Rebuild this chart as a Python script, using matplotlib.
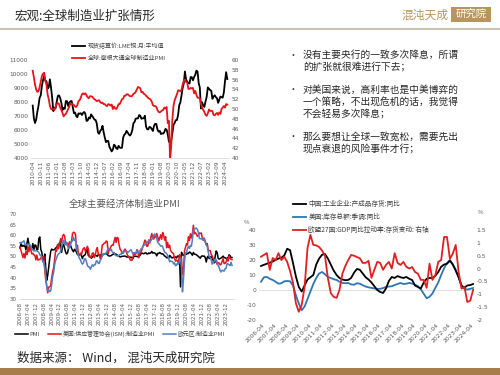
import matplotlib
matplotlib.use('Agg')
import matplotlib.pyplot as plt
from matplotlib.patches import Rectangle
from matplotlib.lines import Line2D
import numpy as np
import pandas as pd

plt.rcParams['font.family'] = ['Noto Sans CJK SC', 'DejaVu Sans']
plt.rcParams['axes.unicode_minus'] = False

# ---------------- data: chart 1 (monthly, 2010-04 .. 2024-06) ----------------
copper_start = '2010-04'
copper = [7745, 6838, 6499, 6735, 7284, 7709, 8292, 8470, 9147,
          9556, 9868, 9530, 9483, 8958, 9045, 9620, 9040, 8300, 7350, 7580, 7560,
          8040, 8440, 8470, 8290, 7960, 7420, 7580, 7510, 8070, 8060, 7710, 7960,
          8050, 8070, 7650, 7200, 7250, 7000, 6910, 7190, 7160, 7200, 7070, 7220,
          7290, 7150, 6650, 6670, 6890, 6820, 7110, 7000, 6870, 6740, 6710, 6450,
          5830, 5730, 5940, 6040, 6300, 5830, 5460, 5130, 5220, 5220, 4800, 4640,
          4470, 4600, 4950, 4870, 4690, 4640, 4870, 4750, 4720, 4730, 5450, 5660,
          5740, 5940, 5820, 5680, 5600, 5720, 5990, 6480, 6580, 6810, 6830, 6830,
          7070, 7010, 6800, 6840, 6830, 7020, 6250, 6050, 6050, 6220, 6190, 6070,
          5930, 6300, 6440, 6430, 6030, 5880, 5940, 5710, 5760, 5740, 5860, 6080,
          6030, 5690, 5180, 5060, 5240, 5760, 6370, 6500, 6700, 6710, 7070, 7770,
          7970, 8460, 9000, 9340, 10180, 9610, 9440, 9360, 9320, 9780, 9770, 9550,
          9780, 9940, 10240, 10180, 9360, 9030, 7530, 7980, 7750, 7650, 8050, 8370,
          9040, 8940, 8850, 8810, 8230, 8390, 8480, 8350, 8270, 7940, 8170, 8390,
          8340, 8310, 8680, 9480, 10130, 9640]
pmi_global = [57.8, 56.5, 55.0, 54.0, 53.5, 53.6, 54.4, 55.6, 56.7,
              57.2, 57.4, 55.8, 55.0, 53.0, 52.0, 50.7, 50.0, 49.9, 50.0, 49.8, 50.5,
              51.0, 51.2, 51.0, 50.3, 49.8, 49.2, 48.5, 48.8, 49.0, 49.5, 50.0, 50.5,
              51.2, 51.0, 51.0, 50.8, 50.5, 50.4, 50.8, 51.6, 51.8, 52.3, 53.0, 53.2,
              53.0, 53.2, 52.8, 52.4, 52.2, 52.6, 52.6, 52.5, 52.2, 52.0, 51.8, 51.6,
              51.7, 51.8, 51.4, 51.2, 51.3, 51.0, 51.0, 50.7, 50.6, 51.0, 50.9, 50.7,
              50.9, 50.0, 50.5, 50.1, 50.0, 50.4, 51.0, 51.0, 51.5, 52.0, 52.1, 52.7,
              52.7, 53.0, 53.0, 52.8, 52.6, 52.6, 52.7, 53.1, 53.2, 53.5, 54.0, 54.5,
              54.4, 54.2, 53.4, 53.5, 53.1, 53.0, 52.7, 52.5, 52.2, 52.1, 51.9, 51.5,
              50.8, 50.6, 50.6, 50.4, 49.8, 49.4, 49.3, 49.5, 49.7, 49.8, 50.3, 50.1,
              50.4, 47.1, 47.6, 39.6, 42.4, 47.8, 50.6, 51.8, 52.4, 53.0, 53.8, 53.8,
              53.6, 53.9, 55.0, 55.8, 56.0, 55.5, 55.4, 54.1, 54.1, 54.3, 54.2, 54.3,
              53.2, 53.7, 52.9, 52.3, 52.3, 52.2, 51.1, 50.3, 49.8, 49.4, 48.8, 48.6,
              49.1, 49.9, 49.6, 49.6, 49.6, 48.8, 48.7, 49.0, 49.2, 48.8, 49.3, 49.0,
              50.0, 50.3, 50.6, 50.3, 51.0, 50.9]
copper_label = '现货结算价:LME铜:月:平均值'
pmi_global_label = '全球:摩根大通全球制造业PMI'

# ---------------- data: chart 2 (monthly, 2006-08 .. 2024-06) ----------------
pmi_start = '2006-08'
pmi_china = [54.0, 56.0, 54.7, 55.3, 54.8,
             55.1, 53.1, 56.1, 58.6, 55.8, 54.8, 53.3, 54.0, 56.1, 53.2, 55.4, 55.3,
             53.0, 53.4, 58.4, 59.2, 53.3, 52.0, 48.4, 48.4, 51.2, 44.6, 38.8, 41.2,
             45.3, 49.0, 52.4, 53.5, 53.1, 53.2, 53.3, 54.0, 54.3, 55.2, 55.2, 56.6,
             55.8, 52.0, 55.1, 55.7, 53.9, 52.1, 51.2, 51.7, 53.8, 54.7, 55.2, 53.9,
             52.9, 52.2, 53.4, 52.9, 52.0, 50.9, 50.7, 50.9, 51.2, 50.4, 49.0, 50.3,
             50.5, 51.0, 53.1, 53.3, 50.4, 50.2, 50.1, 49.2, 49.8, 50.2, 50.6, 50.6,
             50.4, 50.1, 50.9, 50.6, 50.8, 50.1, 50.3, 51.0, 51.1, 51.4, 51.4, 51.0,
             50.5, 50.2, 50.3, 50.4, 50.8, 51.0, 51.7, 51.1, 51.1, 50.8, 50.3, 50.1,
             49.8, 49.9, 50.1, 50.1, 50.2, 50.2, 50.0, 49.7, 49.8, 49.8, 49.6, 49.7,
             49.4, 49.0, 50.2, 50.1, 50.1, 50.0, 49.9, 50.4, 50.4, 51.2, 51.7, 51.4,
             51.3, 51.6, 51.8, 51.2, 51.2, 51.7, 51.4, 51.7, 52.4, 51.6, 51.8, 51.6,
             51.3, 50.3, 51.5, 51.4, 51.9, 51.5, 51.2, 51.3, 50.8, 50.2, 50.0, 49.4,
             49.5, 49.2, 50.5, 50.1, 49.4, 49.4, 49.7, 49.5, 49.8, 49.3, 50.2, 50.2,
             50.0, 35.7, 52.0, 50.8, 50.6, 50.9, 51.1, 51.0, 51.5, 51.4, 52.1, 51.9,
             51.3, 50.6, 51.9, 51.1, 51.0, 50.9, 50.4, 50.1, 49.6, 49.2, 50.1, 50.3,
             50.1, 50.2, 49.5, 47.4, 49.6, 50.2, 49.0, 49.4, 50.1, 49.2, 48.0, 47.0,
             50.1, 52.6, 51.9, 49.2, 48.8, 49.0, 49.3, 49.7, 50.2, 49.5, 49.4, 49.0,
             49.2, 49.1, 50.8, 50.4, 49.5, 49.5]
pmi_us = [54.5, 52.9, 51.2, 49.5, 51.4,
          49.3, 52.3, 50.9, 54.7, 52.2, 55.0, 52.9, 51.2, 51.5, 50.7, 50.6, 48.4,
          50.7, 48.3, 48.6, 48.6, 49.3, 49.5, 50.0, 49.9, 43.5, 38.9, 36.2, 32.9,
          35.6, 35.8, 36.3, 40.1, 42.8, 44.8, 48.9, 52.8, 52.6, 55.7, 53.6, 55.9,
          58.4, 56.5, 59.6, 60.4, 59.7, 56.2, 55.5, 56.3, 54.4, 56.9, 56.6, 57.0,
          60.8, 61.4, 61.2, 60.4, 53.5, 55.3, 50.9, 50.6, 51.6, 50.8, 52.7, 53.9,
          54.1, 52.4, 53.4, 54.8, 53.5, 49.7, 49.8, 49.6, 51.5, 51.7, 49.5, 50.7,
          53.1, 54.2, 51.3, 50.7, 49.0, 50.9, 55.4, 55.7, 56.2, 56.4, 57.3, 57.0,
          51.3, 53.2, 53.7, 54.9, 55.4, 55.3, 57.1, 59.0, 56.6, 59.0, 58.7, 55.5,
          53.5, 52.9, 51.5, 51.5, 52.8, 53.5, 52.7, 51.1, 50.2, 50.1, 48.6, 48.2,
          48.2, 49.5, 51.8, 50.8, 51.3, 53.2, 52.6, 49.4, 51.5, 51.9, 53.2, 54.5,
          56.0, 57.7, 57.2, 54.8, 54.9, 57.8, 56.3, 58.8, 60.8, 58.7, 58.2, 59.7,
          59.1, 60.8, 59.3, 57.3, 58.7, 60.2, 58.1, 61.3, 59.8, 57.7, 59.3, 54.1,
          56.6, 54.2, 55.3, 52.8, 52.1, 51.7, 51.2, 49.1, 47.8, 48.3, 48.1, 47.2,
          50.9, 50.1, 49.1, 41.5, 43.1, 52.6, 54.2, 56.0, 55.4, 59.3, 57.5, 60.7,
          58.7, 60.8, 64.7, 60.7, 61.2, 60.6, 59.5, 59.9, 61.1, 60.8, 61.1, 58.8,
          57.6, 58.6, 57.1, 55.4, 56.1, 53.0, 52.8, 52.8, 50.9, 50.2, 49.0, 48.4,
          47.4, 47.7, 46.3, 47.1, 46.9, 46.0, 46.4, 47.6, 49.0, 46.7, 46.7, 47.4,
          49.1, 47.8, 50.3, 49.2, 48.7, 48.5]
pmi_ez = [56.5, 56.6, 56.6, 57.0, 57.4,
          55.5, 55.6, 55.4, 55.9, 55.6, 55.6, 54.9, 53.2, 53.2, 52.6, 52.8, 52.6,
          52.8, 52.3, 52.0, 50.7, 50.6, 49.2, 47.4, 47.6, 45.0, 41.1, 35.6, 33.9,
          34.4, 33.5, 33.9, 36.8, 40.7, 42.6, 46.3, 48.2, 49.3, 50.7, 51.2, 51.6,
          52.4, 54.2, 56.6, 57.6, 55.8, 55.6, 56.7, 55.1, 53.7, 54.6, 55.3, 57.1,
          57.3, 59.0, 57.5, 58.0, 54.6, 52.0, 50.4, 49.0, 48.5, 47.1, 46.4, 46.9,
          48.8, 49.0, 47.7, 45.9, 45.1, 45.1, 44.0, 45.1, 46.1, 45.4, 46.2, 46.1,
          47.9, 47.9, 46.8, 46.7, 48.3, 48.8, 50.3, 51.4, 51.1, 51.3, 51.6, 52.7,
          54.0, 53.2, 53.0, 53.4, 52.2, 51.8, 51.8, 50.7, 50.3, 50.6, 50.1, 50.6,
          51.0, 51.0, 52.2, 52.0, 52.2, 52.5, 52.4, 52.3, 52.0, 52.3, 52.8, 53.2,
          52.3, 51.2, 51.6, 51.7, 51.5, 52.8, 52.0, 51.7, 52.6, 53.5, 53.7, 54.9,
          55.2, 55.4, 56.2, 56.7, 57.0, 57.4, 56.6, 57.4, 58.1, 58.5, 60.1, 60.6,
          59.6, 58.6, 56.6, 56.2, 55.5, 54.9, 55.1, 54.6, 53.2, 52.0, 51.8, 51.4,
          50.5, 49.3, 47.5, 47.9, 47.7, 47.6, 46.5, 47.0, 45.7, 45.9, 46.9, 46.3,
          47.9, 49.2, 44.5, 33.4, 39.4, 47.4, 51.8, 51.7, 53.7, 54.8, 53.8, 55.2,
          54.8, 57.9, 62.5, 62.9, 63.1, 63.4, 62.8, 61.4, 58.6, 58.3, 58.4, 58.0,
          58.7, 58.2, 56.5, 55.5, 54.6, 52.1, 49.8, 49.6, 48.4, 46.4, 47.1, 47.8,
          48.8, 48.5, 47.3, 45.8, 44.8, 43.4, 42.7, 43.5, 43.4, 43.1, 44.2, 44.4,
          46.6, 46.5, 46.1, 45.7, 47.3, 45.8]
pmi_labels = ['PMI', '美国:供应管理协会(ISM):制造业PMI', '欧元区:制造业PMI']

# ---------------- data: chart 3 (quarterly, 2006Q1 .. 2024Q2) ----------------
inv_start_year = 2006
cn_inventory = [16, 16.8, 17.5, 18.2, 19, 20, 21, 21.5, 23, 27.5, 26.5, 18,
                9, 2, -1, 3, 7, 8.5, 10, 17, 21, 23.5, 24, 21,
                17, 13, 10, 8, 7, 6.5, 6.7, 8, 11.5, 14, 13.5, 11,
                8.5, 7, 5, 2.5, 0, -1.3, -2, 1, 6, 8.7, 8, 9.3,
                8.5, 8, 8.7, 7.5, 6.7, 3, 2, 1, 5, 7.5, 8, 8,
                9.5, 12, 15.5, 17, 17.5, 19.5, 17, 13, 8.5, 3, 1.5, 3,
                3.3, 4]
us_inventory = [5.5, 8.5, 8.7, 7.5, 6.7, 5.5, 4.2, 4.5, 5.8, 6, 5.8, 3,
                -3.5, -9, -13.5, -11, -6, -1, 4, 8, 11, 12, 10.5, 8.7,
                8, 7.2, 6.7, 5.5, 4.7, 4.5, 4.7, 3.7, 3.5, 4.5, 4.2, 3.2,
                2.3, 1.8, 1.4, 1, 0.7, 0.8, 1.3, 2, 2.3, 2.5, 3.3, 4,
                4.7, 4, 4.2, 4.7, 4.3, 3.5, 2.5, 0.5, -2.5, -5.5, -4.5, -2.3,
                1.5, 5, 10, 14.5, 18, 20, 17, 13.5, 8.5, 2.5, 0.8, 0.3,
                0.8, 1.3]
eu_inventory = [0.46, 0.53, 0.6, -0.05, 0.41, 0.33, 0.6, 0.33, 0.46, 0.26, -0.1, -0.55,
                -1.35, -1.68, -1.41, -0.71, 0.8, 1.31, 0.92, 0.9, 0.84, 0.7, 0.5, -0.36,
                -0.95, -1.1, -1.14, -0.83, -0.2, 0.1, 0.33, 0.53, 0.5, 0.45, 0.4, 0.22,
                0.22, 0.3, -0.36, -0.05, 0.26, 0.22, -0.05, 0.14, 0.26, 0.0, 0.6, 0.22,
                0.14, 0.26, 0.07, 0.0, 0.06, -0.13, -0.2, -0.44, -0.44, -0.75, 0.19, -0.44,
                -0.25, 0.26, 0.33, 1.23, 1.23, 0.38, 0.58, 0.92, -0.13, -0.78, -0.71, -1.3,
                -1.25, -0.83]
inv_labels = ['中国:工业企业:产成品存货:同比', '美国:库存总额:季调:同比',
              '欧盟27国:GDP同比拉动率:存货变动: 右轴']
inv_year_ticks = list(range(2006, 2025))

# ---------------- text ----------------
title = '宏观:全球制造业扩张情形'
chart2_title = '全球主要经济体制造业PMI'
bullets = [['没有主要央行的一致多次降息，所谓', '的扩张就很难进行下去；'],
           ['对美国来说，高利率也是中美博弈的', '一个策略，不出现危机的话，我觉得', '不会轻易多次降息；'],
           ['那么要想让全球一致宽松，需要先出', '现点衰退的风险事件才行；']]
source = '数据来源： Wind， 混沌天成研究院'

# ---------------- figure ----------------
W, H = 500, 375
fig = plt.figure(figsize=(5, 3.75), dpi=100)
fig.patch.set_facecolor('white')

def rect(l, t, r, b):
    return [l / W, 1 - b / H, (r - l) / W, (b - t) / H]

def fx(x):
    return x / W

def fy(y):
    return 1 - y / H

TICK_C = '#595959'
GOLD = '#B8955E'

def style(ax, fs=4.2):
    for s in ax.spines.values():
        s.set_visible(False)
    ax.tick_params(length=0, labelsize=fs, colors=TICK_C, pad=2)
    for lab in ax.get_xticklabels() + ax.get_yticklabels():
        lab.set_family(['DejaVu Sans'])
    ax.set_facecolor('none')

# header
fig.text(fx(15), fy(16), title, fontsize=9, color='#262626', va='center', ha='left')
fig.add_artist(Line2D([0, 1], [fy(29), fy(29)], color='#C9C3B6', lw=1.5))
fig.text(fx(449), fy(15), '混沌天成', fontsize=8.5, color=GOLD, va='center', ha='right')
fig.add_artist(Rectangle((fx(451), fy(22)), fx(40), 15 / H, color=GOLD, lw=0))
fig.text(fx(471), fy(15), '研究院', fontsize=7.5, color='white', va='center', ha='center')

# footer
fig.text(fx(17), fy(358), source, fontsize=9, color='#262626', va='center', ha='left')
fig.add_artist(Rectangle((0, 0), 1, 7 / H, color='#A87D4C', lw=0))

# right text block
lines_y = [[55, 67], [90, 102, 114], [137, 149]]
for blk, ys in zip(bullets, lines_y):
    fig.text(fx(288), fy(ys[0]), '•', fontsize=6.5, color='#262626', va='center', ha='left')
    for txt, y in zip(blk, ys):
        fig.text(fx(303), fy(y), txt, fontsize=7.0, color='#262626', va='center', ha='left')

# ---------- chart 1 ----------
ax1 = fig.add_axes(rect(31, 60, 229, 158))
d1 = pd.date_range(copper_start, periods=len(copper), freq='MS')
x1 = np.arange(len(copper))
l1, = ax1.plot(x1, copper, color='black', lw=1.3)
ax1.set_ylim(4000, 11000)
ax1.set_yticks(range(4000, 11001, 1000))
ax1.set_xlim(-1.5, len(copper) + 0.5)
tk1 = x1[::7]
ax1.set_xticks(tk1)
ax1.set_xticklabels([d1[i].strftime('%Y-%m') for i in tk1], rotation=90)
style(ax1)
ax1.spines['bottom'].set_visible(True)
ax1.spines['bottom'].set_color('#D9D9D9')
ax1.spines['bottom'].set_linewidth(0.6)
ax1b = ax1.twinx()
l2, = ax1b.plot(x1, pmi_global, color='#E8141B', lw=1.3)
ax1b.set_ylim(40, 60)
ax1b.set_yticks(range(40, 61, 2))
style(ax1b)
fig.legend([l1, l2], [copper_label, pmi_global_label], loc='upper left',
           bbox_to_anchor=(fx(72), fy(43)), frameon=False, fontsize=4.3,
           handlelength=2.2, handletextpad=0.4, labelspacing=1.0,
           borderpad=0, borderaxespad=0, labelcolor='#404040')

# ---------- chart 2 ----------
ax2 = fig.add_axes(rect(19, 214, 234, 299))
d2 = pd.date_range(pmi_start, periods=len(pmi_china), freq='MS')
x2 = np.arange(len(pmi_china))
a, = ax2.plot(x2, pmi_china, color='black', lw=1.1)
b, = ax2.plot(x2, pmi_us, color='#E8141B', lw=1.1)
c, = ax2.plot(x2, pmi_ez, color='#4F7FC0', lw=1.1)
ax2.set_ylim(30, 70)
ax2.set_yticks(range(30, 71, 5))
ax2.set_xlim(-1, len(pmi_china) + 1)
tk2 = x2[::8]
ax2.set_xticks(tk2)
ax2.set_xticklabels([d2[i].strftime('%Y-%m') for i in tk2], rotation=90)
style(ax2, 4.0)
ax2.spines['bottom'].set_visible(True)
ax2.spines['bottom'].set_color('#D9D9D9')
ax2.spines['bottom'].set_linewidth(0.6)
fig.text(fx(125), fy(204), chart2_title, fontsize=6.8, color=TICK_C, ha='center', va='center')
fig.legend([a, b, c], pmi_labels, loc='center left', bbox_to_anchor=(fx(15), fy(334)),
           ncol=3, frameon=False, fontsize=4.2, handlelength=2.2, handletextpad=0.3,
           columnspacing=1.4, borderpad=0, borderaxespad=0, labelcolor='#404040')

# ---------- chart 3 ----------
ax3 = fig.add_axes(rect(259, 230, 474, 320))
t3 = inv_start_year + 0.125 + 0.25 * np.arange(len(cn_inventory))
p, = ax3.plot(t3, cn_inventory, color='black', lw=1.3, zorder=3)
q, = ax3.plot(t3, us_inventory, color='#2E75B6', lw=1.3, zorder=2)
ax3.axhline(0, color='#D9D9D9', lw=0.6, zorder=1)
ax3.set_ylim(-20, 40)
ax3.set_yticks(range(-20, 41, 10))
ax3.set_xlim(2005.95, 2024.45)
ax3.set_xticks([y + 0.25 for y in inv_year_ticks])
ax3.set_xticklabels([f'{y}-04' for y in inv_year_ticks], rotation=45, ha='right',
                    rotation_mode='anchor')
style(ax3, 4.3)
ax3b = ax3.twinx()
r, = ax3b.plot(t3, eu_inventory, color='#E02020', lw=1.3)
ax3b.set_ylim(-2, 1.5)
ax3b.set_yticks(np.arange(-2, 1.51, 0.5))
ax3b.set_yticklabels([f'{v:g}' for v in np.arange(-2, 1.51, 0.5)])
style(ax3b, 4.3)
fig.text(fx(247), fy(223), '%', fontsize=4.3, color=TICK_C, ha='center', va='center')
fig.text(fx(480), fy(213), '%', fontsize=4.3, color=TICK_C, ha='center', va='center')
fig.legend([p, q, r], inv_labels, loc='upper left', bbox_to_anchor=(fx(293), fy(200)),
           frameon=False, fontsize=4.8, handlelength=2.0, handletextpad=0.3,
           labelspacing=0.75, borderpad=0, borderaxespad=0, labelcolor='#404040')

fig.savefig('out.png', dpi=100, facecolor='white')
